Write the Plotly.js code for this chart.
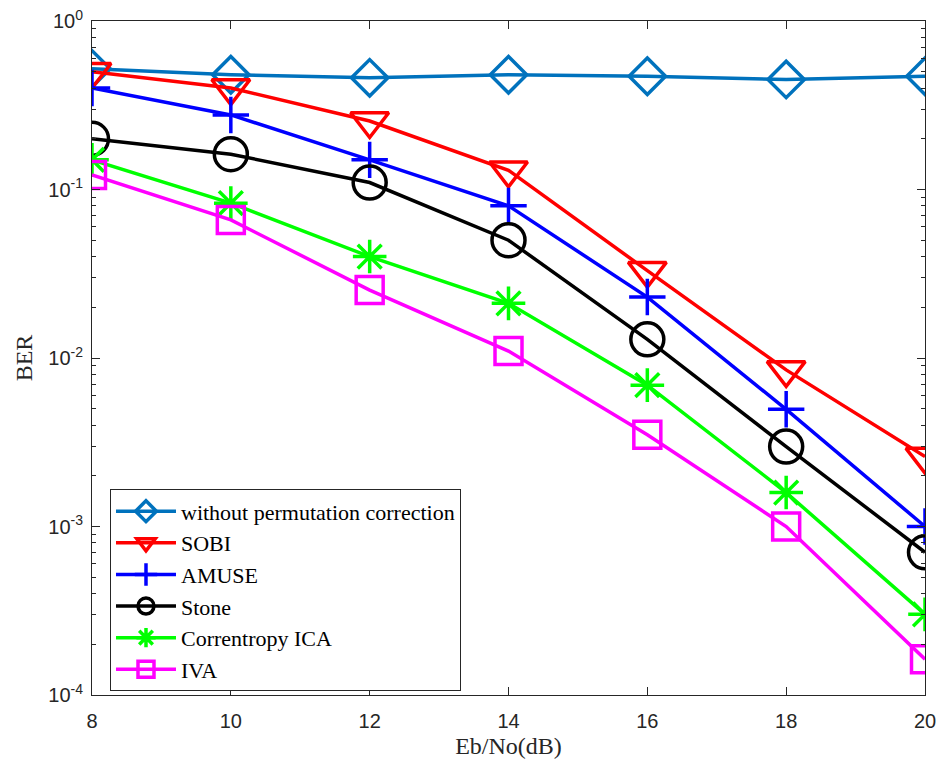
<!DOCTYPE html>
<html><head><meta charset="utf-8">
<script src="https://cdn.plot.ly/plotly-3.0.1.min.js"></script>
<style>body{margin:0;background:#fff}#c{width:943px;height:762px}</style>
</head><body><div id="c"></div>
<script>
var snr = [8, 10, 12, 14, 16, 18, 20];
var berNoPerm = [0.52, 0.48, 0.46, 0.48, 0.47, 0.45, 0.47];
var berSOBI = [0.50, 0.40, 0.255, 0.13, 0.033, 0.0085, 0.0026];
var berAMUSE = [0.40, 0.277, 0.15, 0.080, 0.023, 0.00496, 0.001];
var berStone = [0.20, 0.162, 0.11, 0.050, 0.0129, 0.00298, 0.000703];
var berCorr = [0.15, 0.083, 0.040, 0.0211, 0.0069, 0.00159, 0.000301];
var berIVA = [0.122, 0.066, 0.0253, 0.011, 0.0035, 0.001, 0.000163];
var names = ['without permutation correction', 'SOBI', 'AMUSE', 'Stone', 'Correntropy ICA', 'IVA'];
var yTickVals = [1e-4, 1e-3, 1e-2, 1e-1, 1];
var yTickText = ['10<sup>-4</sup>', '10<sup>-3</sup>', '10<sup>-2</sup>', '10<sup>-1</sup>', '10<sup>0</sup>'];
var xTickVals = [8, 10, 12, 14, 16, 18, 20];

var series = [berNoPerm, berSOBI, berAMUSE, berStone, berCorr, berIVA];
var colors = ['#0072BD', '#FF0000', '#0000FF', '#000000', '#00FF00', '#FF00FF'];
var symbols = ['diamond-open', 'triangle-down-open', 'cross-thin-open', 'circle-open', 'asterisk-open', 'square-open'];
var sizes = [28, 33, 26, 33, 28, 27];

var traces = series.map(function (s, i) {
  return {
    x: snr, y: s, name: names[i], type: 'scatter', mode: 'lines+markers',
    line: {color: colors[i], width: 3.5},
    marker: {symbol: symbols[i], size: sizes[i], color: colors[i], line: {color: colors[i], width: 3.5}}
  };
});

var minorVals = [];
for (var e = -4; e < 0; e++) for (var k = 2; k <= 9; k++) minorVals.push(k * Math.pow(10, e));

var axisCommon = {
  showline: true, linecolor: '#262626', linewidth: 1, mirror: 'ticks',
  ticks: 'inside', ticklen: 8, tickcolor: '#262626', showgrid: false, zeroline: false,
  tickfont: {family: 'Liberation Sans, Arial', size: 20, color: '#262626'}
};

var layout = {
  width: 943, height: 762,
  margin: {l: 92, r: 18, t: 21, b: 67},
  paper_bgcolor: '#fff', plot_bgcolor: '#fff',
  showlegend: true,
  legend: {x: 0.0216, y: 0.305, xanchor: 'left', yanchor: 'top', bgcolor: '#fff',
    bordercolor: '#262626', borderwidth: 1, tracegroupgap: 0, itemwidth: 60,
    font: {family: 'Liberation Serif, Times New Roman', size: 22, color: '#000'}},
  xaxis: Object.assign({}, axisCommon, {
    range: [8, 20], tickvals: xTickVals, ticktext: xTickVals.map(String), ticklabelstandoff: 8,
    title: {text: 'Eb/No(dB)', font: {family: 'Liberation Serif, Times New Roman', size: 24, color: '#262626'}, standoff: 6}
  }),
  yaxis: Object.assign({}, axisCommon, {
    type: 'log', range: [-4, 0], tickvals: yTickVals, ticktext: yTickText, ticklabelstandoff: 4,
    minor: {tickvals: minorVals, ticks: 'inside', ticklen: 4, tickcolor: '#262626', showgrid: false},
    title: {text: 'BER', font: {family: 'Liberation Serif, Times New Roman', size: 24, color: '#262626'}, standoff: 8}
  })
};

Plotly.newPlot('c', traces, layout, {displayModeBar: false, staticPlot: true});
</script>
</body></html>
